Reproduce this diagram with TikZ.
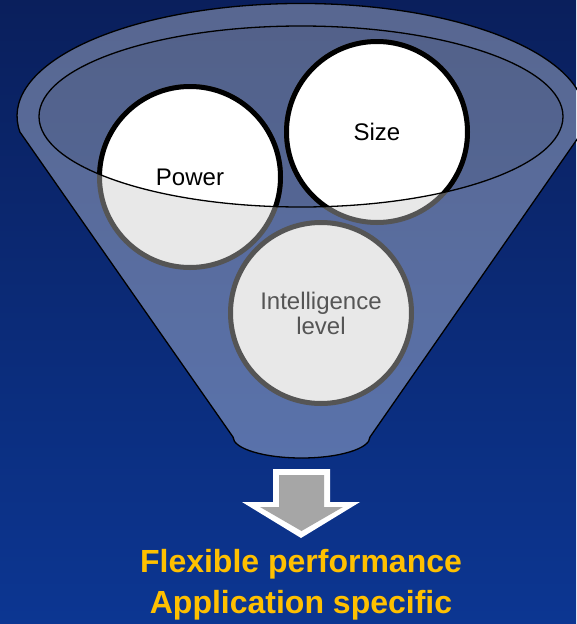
\documentclass[tikz,border=0pt]{standalone}
\usepackage{fontspec}
\setmainfont{Liberation Sans}
\usepackage{xcolor}
\usepackage{tikz}
\usetikzlibrary{positioning}
\definecolor{navytop}{HTML}{0A1F5C}
\definecolor{navybot}{HTML}{0C3692}
\definecolor{ballgrey}{HTML}{E8E8E8}
\definecolor{rimgrey}{HTML}{555555}
\definecolor{arrowgrey}{HTML}{A6A6A6}
\definecolor{gold}{HTML}{FFC000}

\begin{document}
\begin{tikzpicture}[
    x=1pt,y=1pt,
    funnel/.style={draw=black,line width=1.3pt,fill=white,fill opacity=0.32},
    ball/.style={circle,minimum size=181pt,inner sep=0pt,line width=5pt,align=center,font=\fontsize{24}{25}\selectfont},
    topball/.style={ball,draw=black,fill=white,text=black},
    lowball/.style={ball,draw=rimgrey,fill=ballgrey,text=rimgrey},
    result/.style={anchor=base,text=gold,font=\fontsize{32}{41}\selectfont\bfseries}
  ]
    \shade[top color=navytop,bottom color=navybot] (0,0) rectangle (576,-624);
    \useasboundingbox (0,0) rectangle (576,-624);
    % funnel body and its mouth
    \draw[funnel] (582.1,-132) arc[start angle=-8.2,end angle=188.2,x radius=284,y radius=112.5]
      -- (233,-437) arc[start angle=180,end angle=360,x radius=68.5,y radius=21] -- cycle;
    \fill[black,opacity=0.05] (301,-116.5) ellipse[x radius=262,y radius=90.5];
    % balls below the rim
    \node[lowball] (powerlow) at (190,-177) {};
    \node[lowball] (sizelow) at (377,-132) {};
    \node[lowball] (intel) at (321,-313) {Intelligence\\level};
    % parts above the rim
    \begin{scope}
      \clip (39,-116.5) arc[start angle=180,end angle=360,x radius=262,y radius=90.5]
        -- (563,0) -- (39,0) -- cycle;
      \node[topball] (power) at (powerlow) {Power};
      \node[topball] (size) at (sizelow) {Size};
    \end{scope}
    \draw[line width=1.3pt] (301,-116.5) ellipse[x radius=262,y radius=90.5];
    % block arrow
    \fill[white] (273,-469) -- (330,-469) -- (330,-502) -- (360,-502) -- (301,-538)
      -- (242,-502) -- (273,-502) -- cycle;
    \fill[arrowgrey] (279,-475) -- (324,-475) -- (324,-507) -- (343,-507) -- (301.5,-531)
      -- (260,-507) -- (279,-507) -- cycle;
    \node[result] (flex) at (301,-572) {Flexible performance};
    \node[result] (app) at (301,-613) {Application specific};
  \end{tikzpicture}
\end{document}
